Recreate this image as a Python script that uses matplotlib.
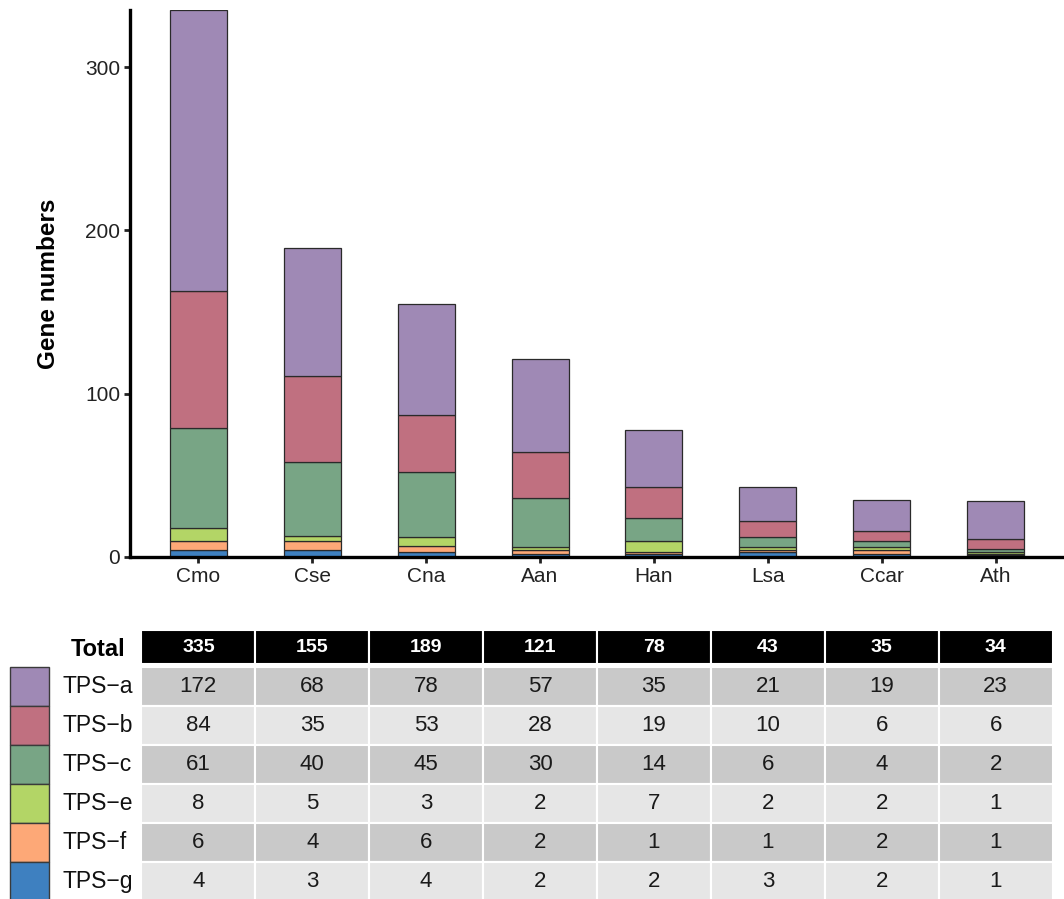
import numpy as np
import matplotlib
matplotlib.use('Agg')
import matplotlib.pyplot as plt
from matplotlib.patches import Rectangle

plt.rcParams['font.family'] = ['Liberation Sans', 'DejaVu Sans']

# species in bar order
species = ['Cmo', 'Cse', 'Cna', 'Aan', 'Han', 'Lsa', 'Ccar', 'Ath']
# gene counts per TPS subfamily, same order as species
tps_a = [172, 78, 68, 57, 35, 21, 19, 23]
tps_b = [84, 53, 35, 28, 19, 10, 6, 6]
tps_c = [61, 45, 40, 30, 14, 6, 4, 2]
tps_e = [8, 3, 5, 2, 7, 2, 2, 1]
tps_f = [6, 6, 4, 2, 1, 1, 2, 1]
tps_g = [4, 4, 3, 2, 2, 3, 2, 1]

# column order used in the summary table
table_order = ['Cmo', 'Cna', 'Cse', 'Aan', 'Han', 'Lsa', 'Ccar', 'Ath']

subfam = ['TPS−g', 'TPS−f', 'TPS−e', 'TPS−c', 'TPS−b', 'TPS−a']
counts = [tps_g, tps_f, tps_e, tps_c, tps_b, tps_a]
colors = ['#3E80C0', '#FDA877', '#B3D566', '#78A585', '#C07080', '#9F89B5']

W, H = 1064, 899
fig = plt.figure(figsize=(W / 100, H / 100), dpi=100)

# ---- stacked bars ----
ax = fig.add_axes([130 / W, 1 - 557 / H, (W - 130) / W, 547 / H])
x = np.arange(1, len(species) + 1)
bottom = np.zeros(len(species))
for vals, col in zip(counts, colors):
    ax.bar(x, vals, width=0.5, bottom=bottom, color=col,
           edgecolor='#2a2a2a', linewidth=0.9)
    bottom += np.array(vals)

ax.set_xlim(0.4, len(species) + 0.6)
ax.set_ylim(0, 335)
ax.set_yticks([0, 100, 200, 300])
ax.set_xticks(x)
ax.set_xticklabels(species)
for s in ['top', 'right']:
    ax.spines[s].set_visible(False)
for s in ['left', 'bottom']:
    ax.spines[s].set_linewidth(2.4)
ax.tick_params(axis='both', labelsize=15, colors='#222222', length=4, width=2)
ax.tick_params(axis='x', pad=3)
ax.tick_params(axis='y', pad=3)
ax.set_ylabel('Gene numbers', fontsize=17.5, fontweight='bold', labelpad=18)

# ---- table underneath ----
tx = fig.add_axes([130 / W, 0, (W - 130) / W, 1], sharex=ax)
tx.set_ylim(H, 0)
tx.axis('off')
px = (len(species) + 0.2) / (W - 130)  # x units per pixel

def to_x(p):
    return 0.4 + (p - 130) * px

head_top, head_h = 630, 34
row_top, row_h = 667, 39
row_names = ['TPS−a', 'TPS−b', 'TPS−c', 'TPS−e', 'TPS−f', 'TPS−g']
row_vals = {'TPS−a': tps_a, 'TPS−b': tps_b, 'TPS−c': tps_c,
            'TPS−e': tps_e, 'TPS−f': tps_f, 'TPS−g': tps_g}
row_cols = dict(zip(subfam, colors))

totals = [sum(v) for v in zip(*counts)]
for j, sp in enumerate(table_order):
    k = species.index(sp)
    xc = j + 1
    tx.add_patch(Rectangle((xc - 0.5, head_top), 1, head_h, facecolor='black',
                           edgecolor='white', linewidth=1.5, clip_on=False))
    tx.text(xc, head_top + head_h / 2, str(totals[k]), color='white',
            fontsize=14, fontweight='bold', ha='center', va='center')
    for i, name in enumerate(row_names):
        y0 = row_top + i * row_h
        shade = '#C9C9C9' if i % 2 == 0 else '#E6E6E6'
        tx.add_patch(Rectangle((xc - 0.5, y0), 1, row_h, facecolor=shade,
                               edgecolor='white', linewidth=1.5, clip_on=False))
        tx.text(xc, y0 + row_h / 2, str(row_vals[name][k]), color='#1a1a1a',
                fontsize=16, ha='center', va='center')

tx.text(to_x(98), head_top + head_h / 2 + 2, 'Total', fontsize=17,
        fontweight='bold', ha='center', va='center', clip_on=False)
for i, name in enumerate(row_names):
    y0 = row_top + i * row_h
    tx.add_patch(Rectangle((to_x(10), y0), 39 * px, row_h, facecolor=row_cols[name],
                           edgecolor='#3a3a3a', linewidth=1.0, clip_on=False))
    tx.text(to_x(62), y0 + row_h / 2, name, fontsize=16.5, color='#111111',
            ha='left', va='center', clip_on=False)

fig.savefig('out.png', dpi=100)
